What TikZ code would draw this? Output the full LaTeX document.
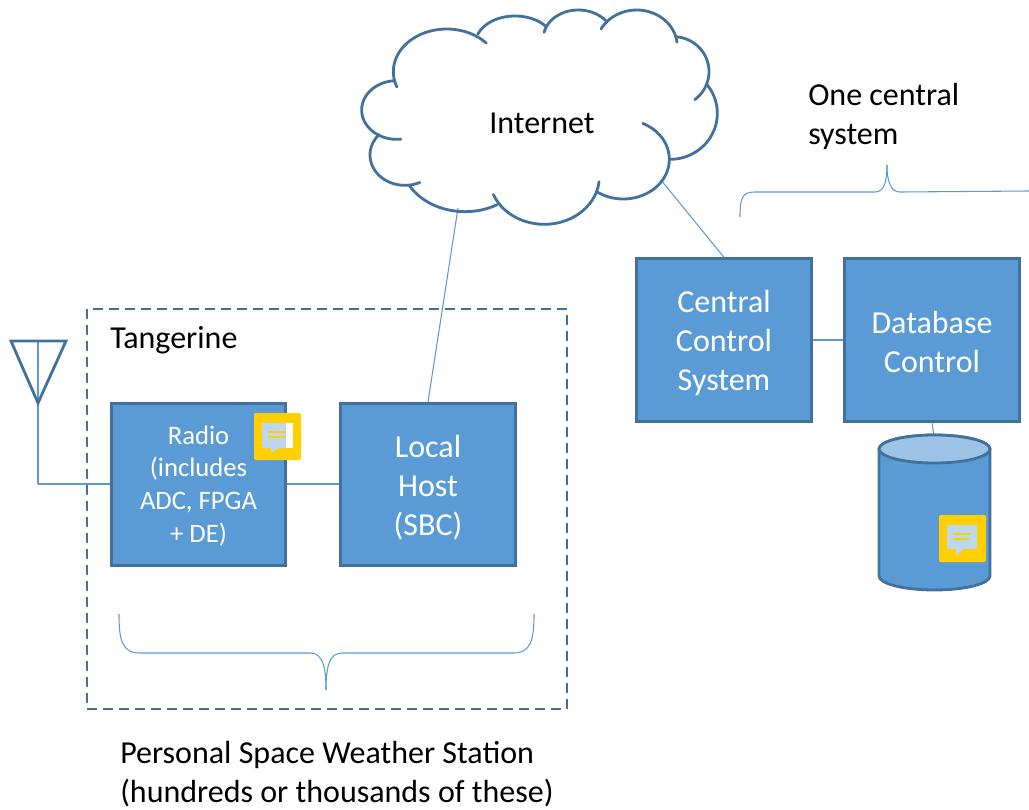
\documentclass[tikz,border=0pt]{standalone}
\usepackage{fontspec}
\setmainfont{Carlito}
\definecolor{boxfill}{HTML}{5B9BD5}
\definecolor{boxline}{HTML}{41719C}
\definecolor{lid}{HTML}{9DC3E6}
\definecolor{notey}{HTML}{FFCF00}
\definecolor{notel}{HTML}{BDD7EE}
\tikzset{
 x=0.75pt,y=-0.75pt,
 block/.style={draw=boxline,fill=boxfill,line width=2.1pt,minimum width=130.8pt,minimum height=121.8pt,inner sep=0pt},
 blocktext/.style={inner sep=0pt,text=white,align=center,font=\fontsize{24}{29.3}\selectfont},
 wire/.style={draw=boxfill,line width=0.8pt},
 cloudarc/.style={draw=boxline,line width=2.1pt,line cap=round,line join=round},
 txt/.style={inner sep=0pt,align=left,text=black,font=\fontsize{24}{29.3}\selectfont},
 notebg/.style={fill=notey,rounded corners=1pt},
}
\newcommand{\bump}[6]{\draw[cloudarc] plot[domain=#5:#6,samples=40] ({#1+#2*cos(\x)},{#3+#4*sin(\x)});}
\begin{document}
\begin{tikzpicture}
\useasboundingbox (0,0) rectangle (1029,810);
% dashed frame
\node[draw=boxline,line width=2.1pt,dash pattern=on 7.5pt off 4.5pt,minimum width=360pt,minimum height=300pt,inner sep=0pt] (frame) at (327,509) {};
% named connector ends
\coordinate (cloudS) at (458,208);
\coordinate (cloudE) at (661,180);
\coordinate (antTop) at (38,341);
\coordinate (antL) at (11,341);
\coordinate (antR) at (66,341);
\coordinate (antTip) at (38,403);
\coordinate (antBend) at (38,484);
\coordinate (cylTop) at (934,436);
% boxes
\node[block] (radio) at (198.5,484.5) {};
\node[block] (host) at (428,484.5) {};
\node[block] (central) at (724,340) {};
\node[block] (db) at (932,340) {};
\node[blocktext,font=\fontsize{20}{24.7}\selectfont] (radiotext) at (198.5,486) {Radio\\(includes\\ADC, FPGA\\+ DE)};
\node[blocktext] (hosttext) at (428,487.5) {Local\\Host\\(SBC)};
\node[blocktext] (centraltext) at (724,343) {Central\\Control\\System};
\node[blocktext] (dbtext) at (932,342) {Database\\Control};
% wires
\draw[wire] (antBend) -- (radio.west |- antBend);
\draw[wire] (radio.east |- antBend) -- (host.west |- antBend);
\draw[wire] (central.east) -- (db.west);
\draw[wire] (cloudS) -- (host.north);
\draw[wire] (cloudE) -- (central.north);
\draw[wire] (antTop) -- (antBend);
\draw[draw=boxline,line width=2.1pt,line join=miter] (antL) -- (antR) -- (antTip) -- cycle;
% cloud
\begin{scope}[shift={(340,0)},x=0.25pt,y=-0.25pt]
\bump{320}{160}{215}{128}{159}{318}
\bump{525}{118}{130}{82}{199}{323}
\bump{715}{105}{115}{85}{192}{325}
\bump{890}{122}{140}{110}{209}{353}
\bump{1000}{107}{215}{105}{275}{413}
\bump{990}{142}{340}{138}{322}{450}
\bump{850}{138}{478}{119}{295}{484}
\bump{613}{165}{530}{143}{6}{158}
\bump{375}{192}{480}{155}{60}{151}
\bump{195}{105}{465}{91}{65}{222}
\bump{170}{105}{330}{88}{83}{265}
\end{scope}
\node[txt] (internet) at (542,123) {Internet};
% cylinder
\draw[wire] (db.south) -- (cylTop);
\path[fill=boxfill,draw=boxline,line width=2.1pt] (879,449) -- (879,576) arc[start angle=180,end angle=360,x radius=41.6pt,y radius=10.5pt] -- (990,449) arc[start angle=0,end angle=180,x radius=41.6pt,y radius=10.5pt] -- cycle;
\path[fill=lid,draw=boxline,line width=2.1pt] (934.5,449) ellipse[x radius=41.6pt,y radius=10.5pt];
% note icons
\fill[notebg] (254,413) rectangle (301,460);
\fill[white] (262,423) rectangle (293,448);
\fill[notel] (262,423) -- (286,423) -- (286,448) -- (279,448) -- (271,453) -- (271,448) -- (262,448) -- cycle;
\draw[notey,line width=0.8pt] (268,432) -- (286,432) (268,437) -- (285,437);
\fill[notebg] (939,515) rectangle (986,562);
\fill[notel] (947,525) -- (977,525) -- (977,549) -- (964,549) -- (956,556) -- (956,549) -- (947,549) -- cycle;
\draw[notey,line width=0.8pt] (953,534) -- (971,534) (953,539) -- (969,539);
% braces
\draw[wire] (119,614) .. controls (119,640) and (122,653) .. (140,653) -- (310,653) .. controls (322,653) and (326,665) .. (326,690);
\draw[wire] (534,614) .. controls (534,640) and (531,653) .. (513,653) -- (342,653) .. controls (330,653) and (326,665) .. (326,690);
\draw[wire] (740,217) .. controls (740,198) and (742,192) .. (755,192) -- (875,192) .. controls (884,192) and (887,182) .. (887,165);
\draw[wire] (1029,191) -- (900,192) .. controls (891,192) and (887,182) .. (887,165);
% labels
\node[txt,anchor=west] (tang) at (110,340) {Tangerine};
\node[txt,anchor=north west] (one) at (808,83) {One central\\system};
\node[txt,anchor=north west] (pers) at (120,741) {Personal Space Weather Station\\(hundreds or thousands of these)};
\end{tikzpicture}
\end{document}
